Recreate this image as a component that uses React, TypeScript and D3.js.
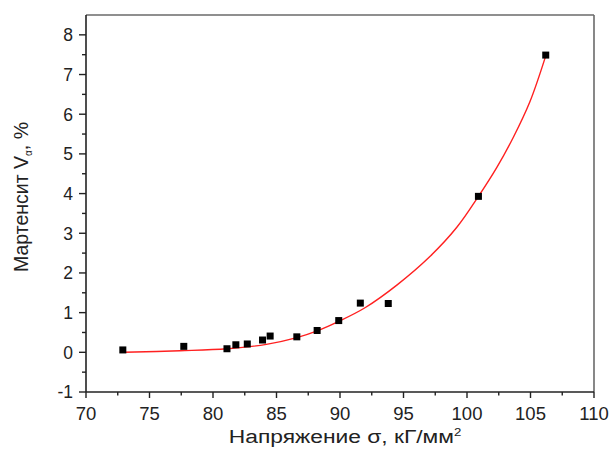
import React from "react";
import * as d3 from "d3";

const sigma = [72.9, 77.7, 81.1, 81.8, 82.7, 83.9, 84.5, 86.6, 88.2, 89.9, 91.6, 93.8, 100.9, 106.2];
const martensite = [0.06, 0.15, 0.09, 0.19, 0.21, 0.31, 0.41, 0.39, 0.55, 0.8, 1.24, 1.23, 3.93, 7.49];

const fitSigma = [73, 77.4, 81.1, 84.2, 86.6, 88.2, 89.9, 92.0, 94.5, 97.1, 99.2, 100.9, 102.35, 103.65, 104.96, 106.2];
const fitMart = [0.0, 0.04, 0.09, 0.2, 0.37, 0.54, 0.78, 1.13, 1.7, 2.42, 3.15, 3.93, 4.66, 5.42, 6.32, 7.47];

const xTicks = [70, 75, 80, 85, 90, 95, 100, 105, 110];
const yTicks = [-1, 0, 1, 2, 3, 4, 5, 6, 7, 8];

const W = 613, H = 455;
const L = 86, R = 594, T = 15, B = 392;
const FONT = "'Liberation Sans', Arial, sans-serif";

export default function App() {
  const x = d3.scaleLinear().domain([70, 110]).range([L, R]);
  const y = d3.scaleLinear().domain([-1, 8.5]).range([B, T]);
  const xMinor = d3.range(72.5, 110, 5);
  const yMinor = d3.range(-0.5, 8.5, 1);
  const line = d3.line<number>()
    .x((_, i) => x(fitSigma[i]))
    .y((d) => y(d))
    .curve(d3.curveCatmullRom.alpha(0.5));
  const s = 7;
  return (
    <svg width={W} height={H} style={{ position: "absolute", left: 0, top: 0, background: "#fff" }} fontFamily={FONT}>
      <line x1={L} x2={R} y1={T} y2={T} stroke="#6a6a6a" strokeWidth={1.6} />
      <line x1={R} x2={R} y1={T} y2={B} stroke="#6a6a6a" strokeWidth={1.6} />
      <line x1={L} x2={R} y1={B} y2={B} stroke="#222" strokeWidth={1.6} />
      <line x1={L} x2={L} y1={T} y2={B} stroke="#222" strokeWidth={1.6} />
      {xTicks.map((t) => (
        <g key={"xt" + t}>
          <line x1={x(t)} x2={x(t)} y1={B} y2={B + 6} stroke="#222" strokeWidth={1.4} />
          <text x={x(t)} y={420} textAnchor="middle" fontSize={18.5} fill="#222">{t}</text>
        </g>
      ))}
      {xMinor.map((t) => (
        <line key={"xm" + t} x1={x(t)} x2={x(t)} y1={B} y2={B + 3.5} stroke="#222" strokeWidth={1.4} />
      ))}
      {yTicks.map((t) => (
        <g key={"yt" + t}>
          <line x1={L - 7} x2={L} y1={y(t)} y2={y(t)} stroke="#222" strokeWidth={1.4} />
          <text x={73} y={y(t)} dy="0.36em" textAnchor="end" fontSize={17.5} fill="#222">{t}</text>
        </g>
      ))}
      {yMinor.map((t) => (
        <line key={"ym" + t} x1={L - 4} x2={L} y1={y(t)} y2={y(t)} stroke="#222" strokeWidth={1.4} />
      ))}
      <path d={line(fitMart) || ""} fill="none" stroke="#ff2020" strokeWidth={1.4} />
      {sigma.map((v, i) => (
        <rect key={"p" + i} x={x(v) - s / 2} y={y(martensite[i]) - s / 2} width={s} height={s} fill="#000" />
      ))}
      <text transform="translate(345,443) scale(1.2,1)" textAnchor="middle" fontSize={19} fill="#222">
        Напряжение σ, кГ/мм<tspan dy={-7} fontSize={11}>2</tspan>
      </text>
      <text transform={`translate(28,197) rotate(-90)`} textAnchor="middle" fontSize={19.5} fill="#222">
        Мартенсит V<tspan dy={4} fontSize={10}>α</tspan><tspan dy={-4}>, %</tspan>
      </text>
    </svg>
  );
}
